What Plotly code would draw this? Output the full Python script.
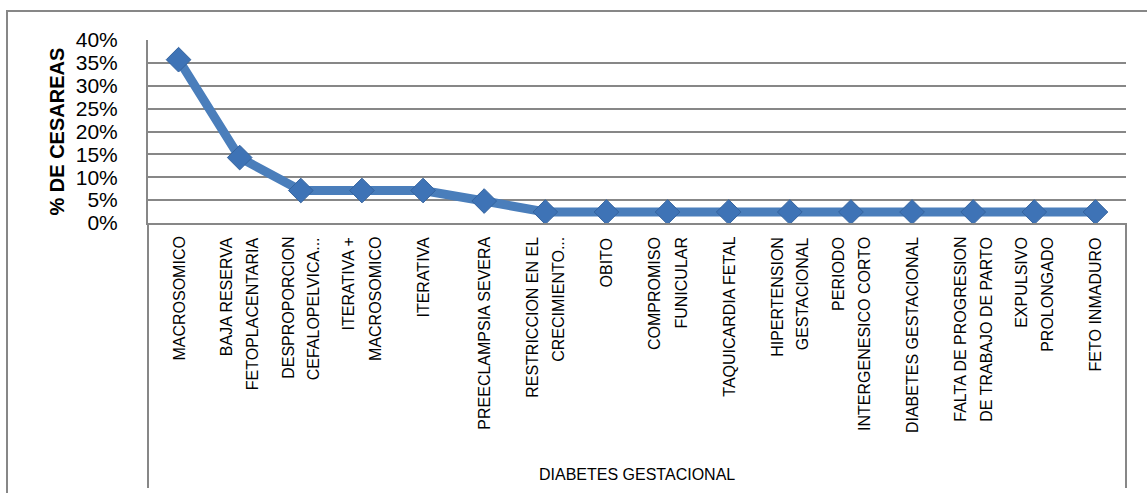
import plotly.graph_objects as go

# Causes of caesarean section in gestational diabetes patients
categories = [
    "MACROSOMICO",
    "BAJA RESERVA<br>FETOPLACENTARIA",
    "DESPROPORCION<br>CEFALOPELVICA...",
    "ITERATIVA +<br>MACROSOMICO",
    "ITERATIVA",
    "PREECLAMPSIA SEVERA",
    "RESTRICCION EN EL<br>CRECIMIENTO...",
    "OBITO",
    "COMPROMISO<br>FUNICULAR",
    "TAQUICARDIA FETAL",
    "HIPERTENSION<br>GESTACIONAL",
    "PERIODO<br>INTERGENESICO CORTO",
    "DIABETES GESTACIONAL",
    "FALTA DE PROGRESION<br>DE TRABAJO DE PARTO",
    "EXPULSIVO<br>PROLONGADO",
    "FETO INMADURO",
]
pct_cesareas = [0.357, 0.143, 0.071, 0.071, 0.071, 0.048,
                0.024, 0.024, 0.024, 0.024, 0.024, 0.024,
                0.024, 0.024, 0.024, 0.024]
group_label = "DIABETES GESTACIONAL"
y_title = "% DE CESAREAS"

FONT = "Liberation Sans"
GRID = "#878787"
BLUE_LINE = "#4A7EBB"
BLUE_MARK = "#3E73B6"

W, H = 1147, 493
L, R, T, B = 148, 21, 40, 270
plot_w = W - L - R
plot_h = H - T - B


def px_x(px):
    return (px - L) / plot_w


def px_y(py):
    return (H - B - py) / plot_h


fig = go.Figure()
fig.add_trace(go.Scatter(
    x=categories,
    y=pct_cesareas,
    mode="lines+markers",
    line=dict(color=BLUE_LINE, width=9),
    marker=dict(symbol="diamond", size=19, color=BLUE_MARK,
                line=dict(color="#35649F", width=1)),
    cliponaxis=False,
    showlegend=False,
))

annotations = []
# rotated category labels, each text line as its own annotation
LINE_GAP = 26
for cat in categories:
    lines = cat.split("<br>")
    n = len(lines)
    for i, ln in enumerate(lines):
        shift = (i - (n - 1) / 2) * LINE_GAP
        annotations.append(dict(
            x=cat, xref="x", y=0, yref="paper",
            text=ln, textangle=-90, showarrow=False,
            xanchor="center", yanchor="top",
            xshift=shift, yshift=-12,
            font=dict(family=FONT, size=16, color="black"),
        ))

# group label under the categories
annotations.append(dict(
    x=0.5, xref="paper", y=0, yref="paper", yshift=-251,
    text=group_label, showarrow=False,
    xanchor="center", yanchor="middle",
    font=dict(family=FONT, size=16, color="black"),
))

# y axis title
annotations.append(dict(
    x=px_x(56), xref="paper", y=0.5, yref="paper",
    text="<b>" + y_title + "</b>", textangle=-90, showarrow=False,
    xanchor="center", yanchor="middle",
    font=dict(family=FONT, size=20, color="black"),
))

shapes = [
    # outer chart frame (left and top edges visible)
    dict(type="rect", xref="paper", yref="paper",
         x0=px_x(7), x1=px_x(1160), y0=px_y(510), y1=px_y(11),
         line=dict(color=GRID, width=2), layer="below"),
    # category axis frame lines below the plot
    dict(type="line", xref="paper", yref="paper",
         x0=0, x1=0, y0=0, y1=px_y(488),
         line=dict(color=GRID, width=2)),
    dict(type="line", xref="paper", yref="paper",
         x0=1, x1=1, y0=0, y1=px_y(488),
         line=dict(color=GRID, width=2)),
]

fig.update_layout(
    width=W, height=H,
    margin=dict(l=L, r=R, t=T, b=B),
    paper_bgcolor="white",
    plot_bgcolor="white",
    font=dict(family=FONT, color="black"),
    annotations=annotations,
    shapes=shapes,
    xaxis=dict(
        type="category",
        range=[-0.5, len(categories) - 0.5],
        showticklabels=False,
        showgrid=False,
        showline=True, linecolor=GRID, linewidth=2,
        ticks="", zeroline=False,
    ),
    yaxis=dict(
        range=[0, 0.4],
        dtick=0.05,
        tickformat=".0%",
        showgrid=True, gridcolor=GRID, gridwidth=1.5,
        showline=True, linecolor=GRID, linewidth=2,
        ticks="", ticklabelstandoff=24,
        tickfont=dict(family=FONT, size=21, color="black"),
        zeroline=False,
    ),
)

fig.write_html("out.html")
